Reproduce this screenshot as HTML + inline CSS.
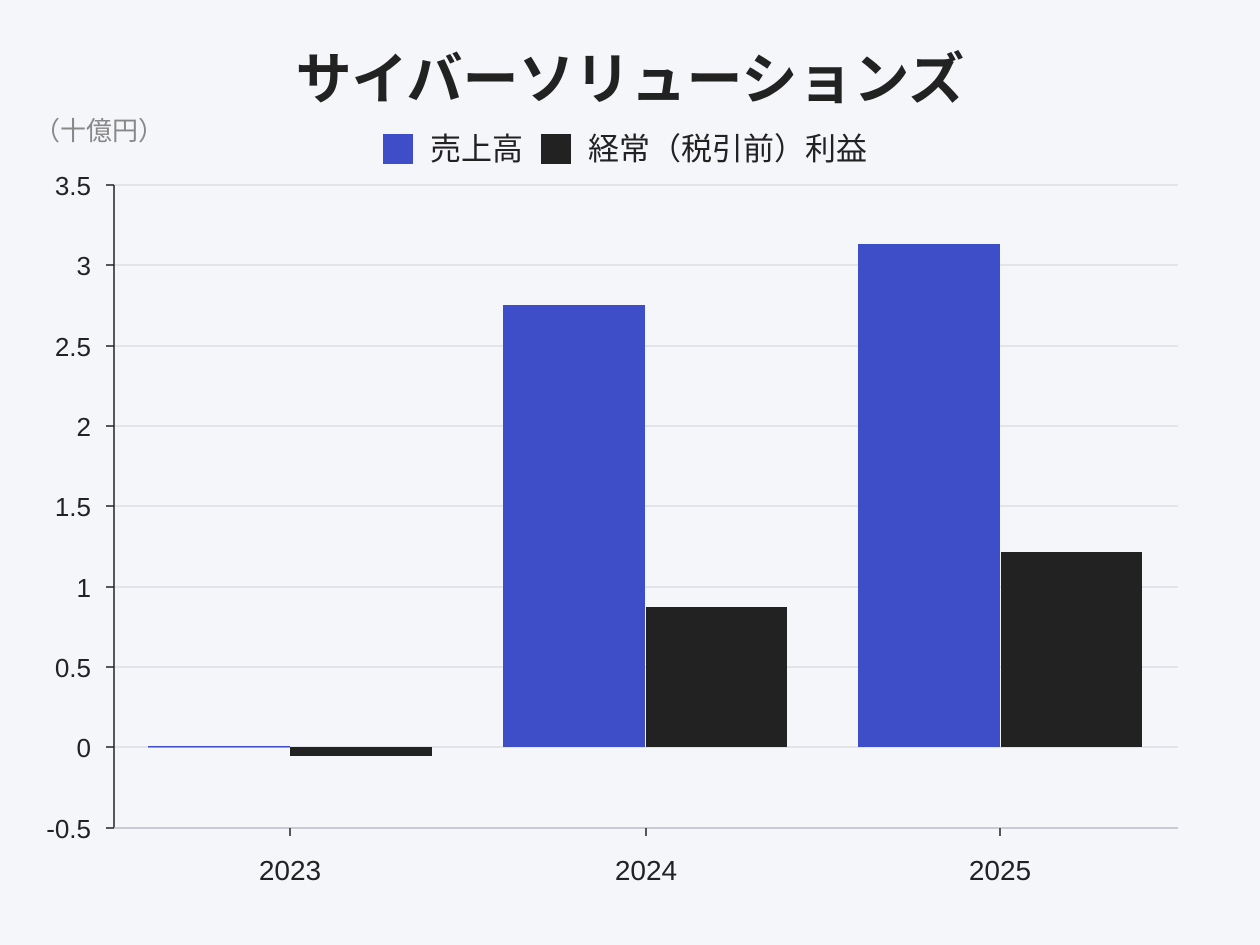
<!DOCTYPE html>
<html><head><meta charset="utf-8"><style>
html,body{margin:0;padding:0;background:#f5f6fa;}
svg{display:block;font-family:"Liberation Sans","Noto Sans CJK JP",sans-serif;}
</style></head><body>
<svg width="1260" height="945" viewBox="0 0 1260 945">
<rect width="1260" height="945" fill="#f5f6fa"/>
<text x="630" y="99" text-anchor="middle" font-size="56" font-weight="bold" fill="#222">サイバーソリューションズ</text>
<text x="34" y="140" font-size="26" fill="#888">（十億円）</text>
<rect x="383" y="134" width="30" height="30" fill="#3d4ec8"/>
<text x="430" y="160" font-size="31" fill="#222">売上高</text>
<rect x="541" y="134" width="30" height="30" fill="#222"/>
<text x="588" y="160" font-size="31" fill="#222">経常（税引前）利益</text>
<g stroke="#dcdde3" stroke-width="1.5">
<line x1="114" x2="1178" y1="185" y2="185"/>
<line x1="114" x2="1178" y1="265" y2="265"/>
<line x1="114" x2="1178" y1="346" y2="346"/>
<line x1="114" x2="1178" y1="426" y2="426"/>
<line x1="114" x2="1178" y1="506" y2="506"/>
<line x1="114" x2="1178" y1="587" y2="587"/>
<line x1="114" x2="1178" y1="667" y2="667"/>
<line x1="114" x2="1178" y1="747" y2="747"/>
</g>
<rect x="148" y="746" width="142" height="1.5" fill="#3d4ec8"/>
<rect x="290" y="747" width="142" height="9" fill="#222"/>
<rect x="503" y="305" width="142" height="442" fill="#3d4ec8"/>
<rect x="646" y="607" width="141" height="140" fill="#222"/>
<rect x="858" y="244" width="142" height="503" fill="#3d4ec8"/>
<rect x="1001" y="552" width="141" height="195" fill="#222"/>
<line x1="114" x2="114" y1="185" y2="828" stroke="#222" stroke-width="1.5"/>
<line x1="114" x2="1178" y1="828" y2="828" stroke="#bbbcc4" stroke-width="1.5"/>
<g stroke="#222" stroke-width="1.5">
<line x1="106" x2="114" y1="185" y2="185"/><line x1="106" x2="114" y1="265" y2="265"/>
<line x1="106" x2="114" y1="346" y2="346"/><line x1="106" x2="114" y1="426" y2="426"/>
<line x1="106" x2="114" y1="506" y2="506"/><line x1="106" x2="114" y1="587" y2="587"/>
<line x1="106" x2="114" y1="667" y2="667"/><line x1="106" x2="114" y1="747" y2="747"/>
<line x1="106" x2="114" y1="828" y2="828"/>
<line x1="290" x2="290" y1="828" y2="836"/><line x1="646" x2="646" y1="828" y2="836"/><line x1="1000" x2="1000" y1="828" y2="836"/>
</g>
<g font-size="26" fill="#222" text-anchor="end">
<text x="91" y="195">3.5</text><text x="91" y="275">3</text><text x="91" y="356">2.5</text>
<text x="91" y="436">2</text><text x="91" y="516">1.5</text><text x="91" y="597">1</text>
<text x="91" y="677">0.5</text><text x="91" y="757">0</text><text x="91" y="838">-0.5</text>
</g>
<g font-size="28" fill="#222" text-anchor="middle">
<text x="290" y="880">2023</text><text x="646" y="880">2024</text><text x="1000" y="880">2025</text>
</g>
</svg>
</body></html>
